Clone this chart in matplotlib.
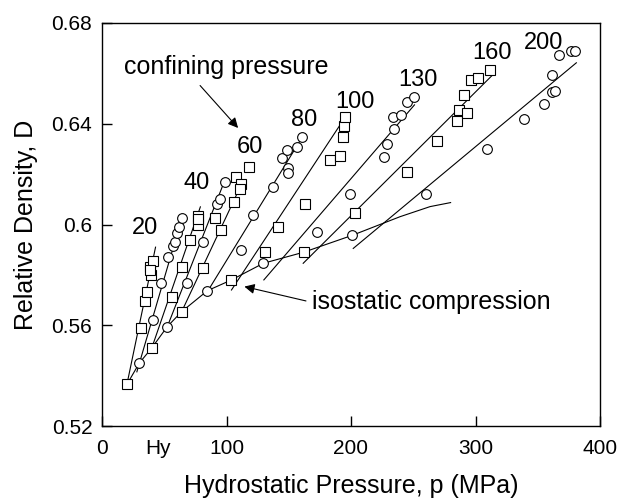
import matplotlib
matplotlib.use("Agg")
import matplotlib.pyplot as plt
import numpy as np

plt.rcParams['font.family'] = ['Liberation Sans', 'DejaVu Sans']

# Isostatic compression curve (hydrostatic)
iso_curve_p = [20, 30, 40, 52.5, 64, 84.6, 104, 129.6, 162, 201, 239.4, 263.5, 280]
iso_curve_D = [0.5365, 0.545, 0.551, 0.5595, 0.5654, 0.5737, 0.578, 0.5846, 0.589, 0.5957, 0.6031, 0.6071, 0.6087]

# Confining-pressure fit lines: (start p, start D, end p, end D)
line_names = ['20', '30', '40', '50', '60', '80', '100', '130', '160', '200']
line_p0 = [20, 28, 40, 52.5, 64, 83, 104, 130, 161.6, 201.8]
line_D0 = [0.5365, 0.5415, 0.551, 0.5595, 0.5654, 0.572, 0.574, 0.578, 0.5846, 0.5905]
line_p1 = [43, 65, 79, 99, 113, 160, 196.5, 251, 313, 381]
line_D1 = [0.591, 0.604, 0.607, 0.618, 0.617, 0.634, 0.6435, 0.6475, 0.659, 0.6642]

# Square symbols
sq_p = [20, 40, 64, 104, 162,
        31, 34.5, 36, 38.6, 39, 40.7, 38.6,
        56, 64, 71, 77, 77, 77,
        81.4, 95.6, 90.8, 106, 108, 112, 111, 118,
        131, 141.6, 163, 183, 191, 193.6, 194.4, 195,
        203.2, 244.7, 269.4, 285.4, 286.7, 293, 290.8, 296, 302, 311.6]
sq_D = [0.5365, 0.551, 0.5654, 0.578, 0.589,
        0.5588, 0.5697, 0.5733, 0.5833, 0.580, 0.5857, 0.582,
        0.5714, 0.5833, 0.5939, 0.600, 0.6035, 0.602,
        0.5826, 0.598, 0.6025, 0.609, 0.619, 0.616, 0.614, 0.623,
        0.589, 0.599, 0.608, 0.6256, 0.627, 0.6346, 0.6393, 0.6426,
        0.6045, 0.621, 0.633, 0.641, 0.6456, 0.6443, 0.6513, 0.6573, 0.6583, 0.6613]

# Circle symbols
ci_p = [30, 52.5, 84.6, 129.6, 201,
        41, 47.4, 53.3, 57.3, 58.6, 60.5, 62, 64,
        68, 81.4, 92, 94.8, 98.8,
        111.6, 121.5, 137.6, 144.3, 148.3, 149, 149.6, 156.4, 160.4,
        173, 199, 226.5, 229, 234.5, 233.7, 240, 245, 250.6,
        260, 309.5, 339, 355, 361.7, 364, 361.7, 367, 377, 380]
ci_D = [0.545, 0.5595, 0.5737, 0.5846, 0.5957,
        0.562, 0.5767, 0.587, 0.5915, 0.593, 0.5965, 0.599, 0.6025,
        0.5767, 0.5932, 0.608, 0.610, 0.617,
        0.590, 0.6038, 0.615, 0.6263, 0.6296, 0.6223, 0.6203, 0.6307, 0.6346,
        0.597, 0.612, 0.6267, 0.632, 0.638, 0.6426, 0.6433, 0.6486, 0.6506,
        0.6123, 0.630, 0.642, 0.648, 0.6526, 0.653, 0.6593, 0.6672, 0.669, 0.669]

# Confining pressure labels
lab_text = ['20', '40', '60', '80', '100', '130', '160', '200']
lab_p = [34.5, 76, 119, 162.5, 203, 254, 313, 354.5]
lab_D = [0.5985, 0.6164, 0.6309, 0.6415, 0.6488, 0.6574, 0.668, 0.672]

fig = plt.figure(figsize=(6.29, 5.0), dpi=100)
ax = fig.add_axes([102/629, 1-426/500, (600-102)/629, (426-23)/500])

for p0, d0, p1, d1 in zip(line_p0, line_D0, line_p1, line_D1):
    ax.plot([p0, p1], [d0, d1], color='black', lw=0.8, zorder=2)
ax.plot(iso_curve_p, iso_curve_D, color='black', lw=0.8, zorder=2)

ax.plot(sq_p, sq_D, ls='none', marker='s', ms=7, mfc='white', mec='black', mew=0.8, zorder=3)
ax.plot(ci_p, ci_D, ls='none', marker='o', ms=7, mfc='white', mec='black', mew=0.8, zorder=3)

for t, x, y in zip(lab_text, lab_p, lab_D):
    ax.text(x, y, t, fontsize=17, ha='center', va='center')

ax.text(18, 0.6625, 'confining pressure', fontsize=18, ha='left', va='center')
ax.annotate('', xy=(110.8, 0.6375), xytext=(77.3, 0.656),
            arrowprops=dict(arrowstyle='-|>', color='black', lw=0.8, mutation_scale=15))
ax.text(168.4, 0.5694, 'isostatic compression', fontsize=18, ha='left', va='center')
ax.annotate('', xy=(112.2, 0.5756), xytext=(166, 0.5694),
            arrowprops=dict(arrowstyle='-|>', color='black', lw=0.8, mutation_scale=15))

ax.set_xlim(0, 400)
ax.set_ylim(0.52, 0.68)
ax.set_xticks([0, 100, 200, 300, 400])
ax.set_xticklabels(['0', '100', '200', '300', '400'])
ax.set_xticks([45], labels=['Hy'], minor=True)
ax.set_yticks([0.52, 0.56, 0.6, 0.64, 0.68])
ax.set_yticklabels(['0.52', '0.56', '0.6', '0.64', '0.68'])
ax.tick_params(which='major', direction='in', length=7, width=1, labelsize=15, pad=9)
ax.tick_params(axis='x', which='minor', length=0, labelsize=15, pad=9)
ax.tick_params(axis='y', which='major', pad=7)
ax.set_xlabel('Hydrostatic Pressure, p (MPa)', fontsize=18, labelpad=12)
ax.set_ylabel('Relative Density, D', fontsize=18, labelpad=10)
for s in ax.spines.values():
    s.set_linewidth(1.0)

fig.savefig('out.png', dpi=100)
